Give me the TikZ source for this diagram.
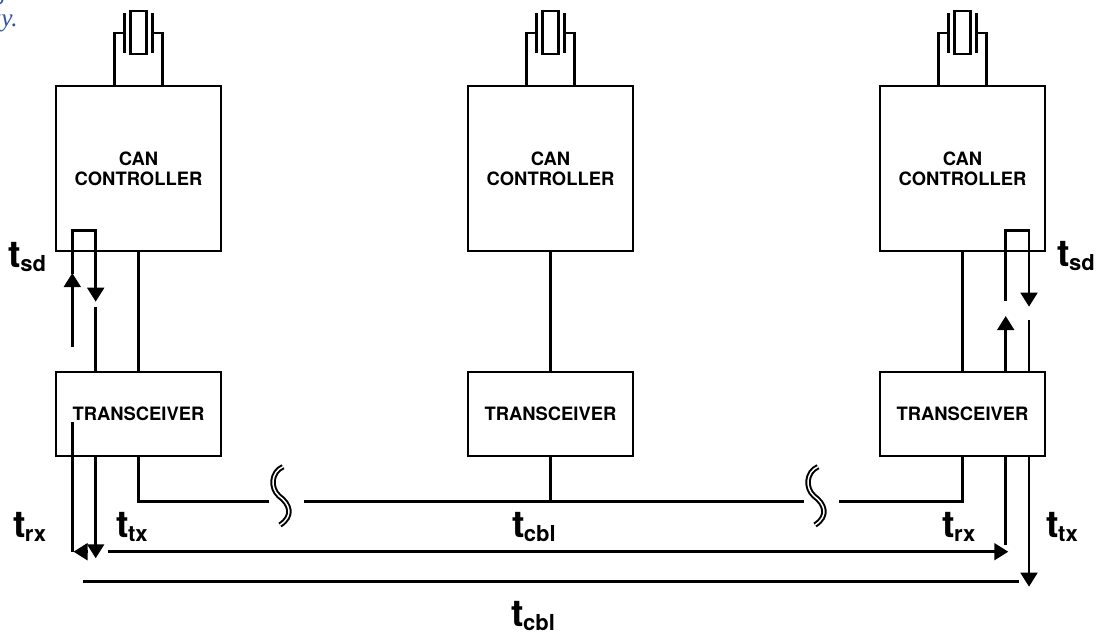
\documentclass[tikz,border=0pt]{standalone}
\usepackage{fontspec}
\setmainfont{TeX Gyre Heros}
\newfontfamily\capfont{Liberation Serif}
\usepackage{xcolor}
\usepackage{tikz}
\usetikzlibrary{arrows.meta}

\definecolor{capblue}{RGB}{52,84,160}
\newcommand{\tlab}[2]{{\fontsize{28}{28}\selectfont #1}\kern-0.5pt\raisebox{-3pt}{\fontsize{16.5}{16.5}\selectfont #2}}

\tikzset{
  unitbox/.style={draw, line width=2.1pt, minimum width=123.75pt, align=center, inner sep=0pt,
    font=\bfseries\fontsize{13.8}{15}\selectfont},
  ctrlbox/.style={unitbox, minimum height=123.75pt},
  xcvrbox/.style={unitbox, minimum height=63pt},
  sig/.style={-{Triangle[length=10.5pt,width=12.5pt]}},
  brk/.style={line width=1.5pt, double=white, double distance=1.1pt},
  tlabel/.style={inner sep=0pt, font=\bfseries},
  caption/.style={inner sep=0pt, text=capblue, font=\capfont\itshape\fontsize{19}{20}\selectfont}
}

\begin{document}
\begin{tikzpicture}[x=0.75pt,y=0.75pt,yscale=-1,xscale=1,line width=2.1pt]
\useasboundingbox (0,0) rectangle (1098,635);

% caption remnants
\node[caption, anchor=base east] (capA) at (8,0) {g};
\node[caption, anchor=base east] (capB) at (19,27) {ay.};

% controllers and transceivers
\node[ctrlbox] (ctrlA) at (138.5,168.5) {CAN\\CONTROLLER};
\node[ctrlbox] (ctrlB) at (550.5,168.5) {CAN\\CONTROLLER};
\node[ctrlbox] (ctrlC) at (962.5,168.5) {CAN\\CONTROLLER};

\node[xcvrbox] (xcvrA) at (138.5,414) {TRANSCEIVER};
\node[xcvrbox] (xcvrB) at (550.5,414) {TRANSCEIVER};
\node[xcvrbox] (xcvrC) at (962.5,414) {TRANSCEIVER};

% crystals
\foreach \cx in {138.5,550.5,962.5}{
  \draw (\cx-24,86) |- (\cx-14,33);
  \draw (\cx+24,86) |- (\cx+14,33);
  \draw (\cx-14,13) -- (\cx-14,53);
  \draw (\cx+14,13) -- (\cx+14,53);
  \draw (\cx-8,11) rectangle (\cx+8,54);
}

\draw (ctrlA) -- (xcvrA);
\draw (ctrlB) -- (xcvrB);
\draw (ctrlC) -- (xcvrC);

% bus
\coordinate (busA) at (269.3,501.7);
\coordinate (busB) at (304.3,501.7);
\coordinate (busC) at (804.3,501.7);
\coordinate (busD) at (839.3,501.7);
\draw (xcvrA.south) |- (busA);
\draw (busB) -- (busC);
\draw (busD) -| (xcvrC.south);
\draw (xcvrB.south) -- (xcvrB.south |- busB);
\draw[brk] (283,466.7) .. controls (271,472) and (270,488) .. (279,496) .. controls (290,504) and (294,516) .. (280,525);
\draw[brk] (818,466.7) .. controls (806,472) and (805,488) .. (814,496) .. controls (825,504) and (829,516) .. (815,525);

% delays, left node
\coordinate (la) at (72.3,0);
\coordinate (lb) at (95.7,0);
\draw[sig] (72.3,347) -- (72.3,273);
\draw[sig] (72.3,274) |- (95.7,230.7) -- (95.7,301.7);
\draw (95.7,306.7) -- (xcvrA.north -| lb);
\draw[sig] (xcvrA.south -| lb) -- (95.7,558.3);
\draw (72.3,422) -- (72.3,551.7);

% delays, right node
\coordinate (ra) at (1005.7,0);
\coordinate (rb) at (1029,0);
\draw[sig] (1005.7,300.7) |- (1029,230.7) -- (1029,306.7);
\draw[sig] (xcvrC.north -| ra) -- (1005.7,316);
\draw (1029,320) -- (xcvrC.north -| rb);
\draw (xcvrC.south -| ra) -- (1005.7,545);
\draw[sig] (xcvrC.south -| rb) -- (1029,586.7);

% cable
\draw[sig] (88,551.7) -- (73.5,551.7);
\draw[sig] (108.3,551.7) -- (1008.3,551.7);
\draw (83.3,581.7) -- (1019.3,581.7);

% labels
\node[tlabel, anchor=base east] (tsdA) at (47.5,267) {\tlab{t}{sd}};
\node[tlabel, anchor=base west] (tsdC) at (1056,266.7) {\tlab{t}{sd}};
\node[tlabel, anchor=base east] (trxA) at (47.5,537) {\tlab{t}{rx}};
\node[tlabel, anchor=base west] (ttxA) at (115,537) {\tlab{t}{tx}};
\node[tlabel, anchor=base west] (tcblA) at (510.7,537) {\tlab{t}{cbl}};
\node[tlabel, anchor=base west] (trxC) at (941,537) {\tlab{t}{rx}};
\node[tlabel, anchor=base west] (ttxC) at (1045,537) {\tlab{t}{tx}};
\node[tlabel, anchor=base west] (tcblB) at (510,626) {\tlab{t}{cbl}};

\end{tikzpicture}
\end{document}
